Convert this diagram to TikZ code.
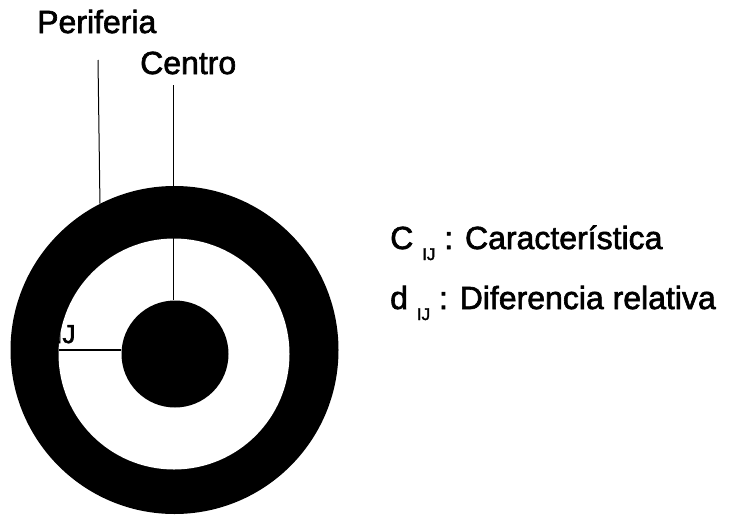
\documentclass[tikz,border=0pt]{standalone}
\usepackage{fontspec}
\setmainfont{Liberation Sans}[FakeBold=2]
\newfontfamily\heavy{Liberation Sans}[FakeBold=2]
\newcommand{\subIJ}{\raisebox{-11pt}{\fontsize{17}{20}\selectfont IJ}}
\begin{document}
\begin{tikzpicture}[x=1pt,y=-1pt,
  lbl/.style={font=\heavy\fontsize{32}{38}\selectfont, inner sep=0pt, anchor=base west},
  sublbl/.style={font=\heavy\fontsize{26}{30}\selectfont, inner sep=0pt, anchor=base west},
  disc/.style={circle, inner sep=0pt, draw=none}]
\useasboundingbox (0,0) rectangle (733,514);
\node[disc, fill=black, minimum size=328pt] (outer) at (174.5,350) {};
\node[disc, fill=white, minimum size=231pt] (inner) at (174,354) {};
\node[disc, fill=black, minimum size=107pt] (core) at (175,354) {};
\node[lbl] (per) at (37,33) {Periferia};
\node[lbl] (cen) at (140,74) {Centro};
\coordinate (perTop) at (98,60);
\coordinate (cenTop) at (173,85);
\draw[line width=1pt] (perTop) -- (outer.117.8);
\draw[line width=1pt] (cenTop) -- (cenTop |- core.north);
\coordinate (dL) at (59,350);
\draw[line width=2pt] (dL) -- (dL -| core.west);
\begin{scope}
  \clip (174,354) circle (115.5);
  \node[sublbl] (dij) at (55,343) {IJ};
\end{scope}
\node[lbl] (cap) at (390,249) {C \subIJ\ : Característica};
\node[lbl] (dif) at (390,309) {d \subIJ\ : Diferencia relativa};
\end{tikzpicture}
\end{document}
